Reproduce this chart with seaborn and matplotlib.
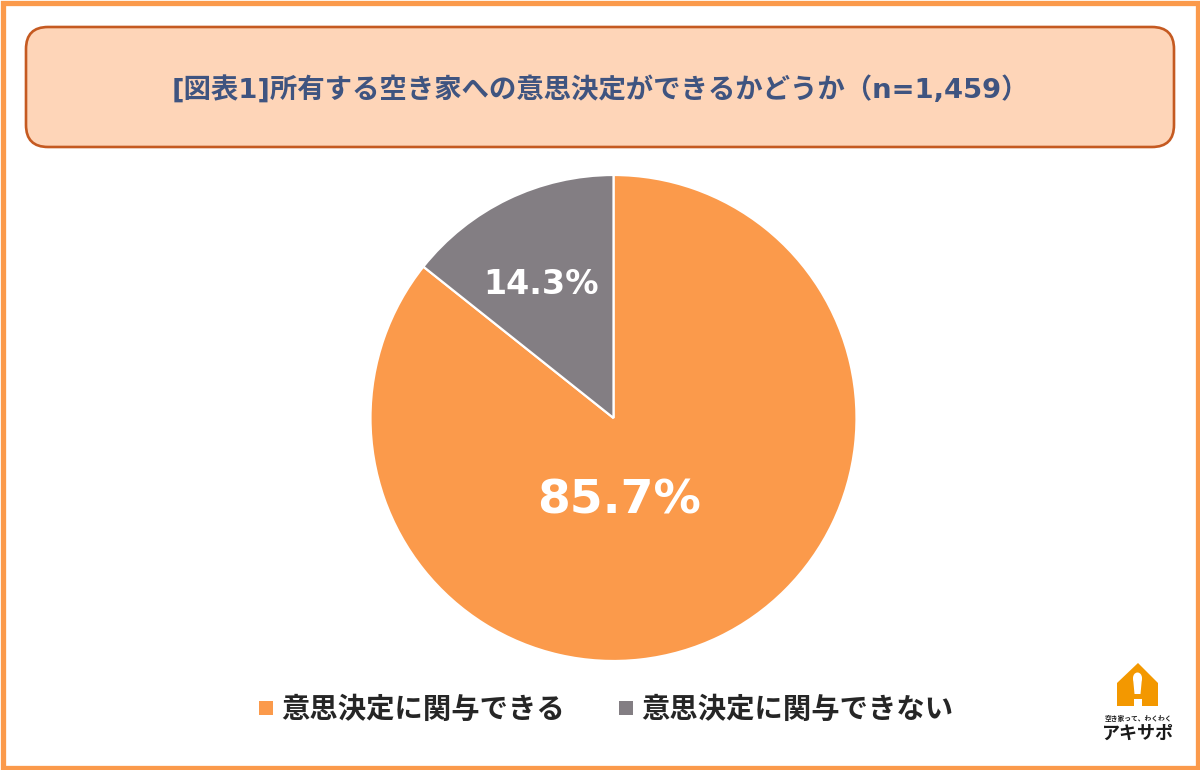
import matplotlib
matplotlib.use('Agg')
from matplotlib import pyplot as plt
from matplotlib.patches import FancyBboxPatch, Polygon, Rectangle, Ellipse
import seaborn as sns

title_text = "[図表1]所有する空き家への意思決定ができるかどうか（n=1,459）"
categories = ["意思決定に関与できる", "意思決定に関与できない"]
values = [85.7, 14.3]
value_labels = ["85.7%", "14.3%"]
colors = ["#FB9A4B", "#837E83"]

sns.set_theme(style="white")
plt.rcParams['font.family'] = ['DejaVu Sans', 'Noto Sans CJK JP']
JP = ['Noto Sans CJK JP', 'DejaVu Sans']

fig = plt.figure(figsize=(12, 7.7), dpi=100, facecolor="white")

# background layer in pixel coords, y going down
bg = fig.add_axes([0, 0, 1, 1])
bg.set_xlim(0, 1200)
bg.set_ylim(770, 0)
bg.axis("off")

# outer frame
bg.add_patch(Rectangle((2.5, 2.5), 1195, 765, fc="none", ec="#FB9A4B", lw=3.8))

# title box
bg.add_patch(FancyBboxPatch((26 + 22, 27 + 22), 1148 - 44, 120 - 44,
                            boxstyle="round,pad=22", fc="#FED5B8", ec="#C55A21", lw=1.9))
bg.text(600, 91, title_text, ha="center", va="center", fontsize=19.75,
        fontweight="bold", color="#3F5480")

# pie
ax = fig.add_axes([(613.5 - 243) / 1200, 1 - (418 + 243) / 770, 486 / 1200, 486 / 770])
wedges, _ = ax.pie(values, colors=colors, startangle=90, counterclock=False, radius=1.0,
                   wedgeprops={"edgecolor": "white", "linewidth": 1.6})
ax.set_xlim(-1, 1)
ax.set_ylim(-1, 1)

bg.text(619, 501, value_labels[0], ha="center", va="center", fontsize=34,
        fontweight="bold", color="white", zorder=5)
bg.text(541, 284, value_labels[1], ha="center", va="center", fontsize=24,
        fontweight="bold", color="white", zorder=5)
bg.set_zorder(2)
bg.patch.set_alpha(0)

# legend
bg.add_patch(Rectangle((259, 701), 14, 14, fc=colors[0], ec="none"))
bg.text(281, 710, categories[0], ha="left", va="center", fontsize=20.4,
        fontweight="bold", color="#262626", family=JP)
bg.add_patch(Rectangle((619, 701), 14, 14, fc=colors[1], ec="none"))
bg.text(641, 710, categories[1], ha="left", va="center", fontsize=20.4,
        fontweight="bold", color="#262626", family=JP)

# logo
bg.add_patch(Polygon([(1138, 663), (1158, 683), (1158, 706), (1117, 706), (1117, 683)],
                     closed=True, fc="#F39800", ec="none"))
bg.add_patch(Ellipse((1137.5, 678), 9, 11, fc="white", ec="none"))
bg.add_patch(Polygon([(1133, 678), (1142, 678), (1140.5, 694), (1134.5, 694)],
                     closed=True, fc="white", ec="none"))
bg.add_patch(Rectangle((1134, 699), 8, 7, fc="white", ec="none"))
bg.text(1138, 718, "空き家って、わくわく", ha="center", va="center", fontsize=4.9,
        fontweight="bold", color="#1a1a1a", family=JP)
bg.text(1137.5, 733, "アキサポ", ha="center", va="center", fontsize=13,
        fontweight="bold", color="#1a1a1a", family=JP)

fig.savefig("out.png", dpi=100)
